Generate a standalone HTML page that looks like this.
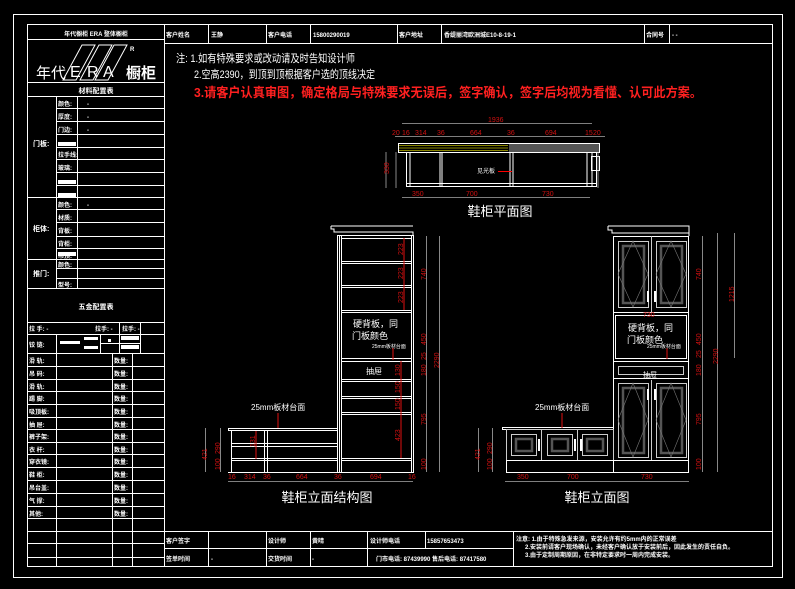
<!DOCTYPE html>
<html><head><meta charset="utf-8"><style>
html,body{margin:0;padding:0;background:#000;width:795px;height:589px;overflow:hidden}
svg{display:block}
text{font-family:"Liberation Sans","Noto Sans CJK SC",sans-serif}
</style></head><body>
<svg width="795" height="589" viewBox="0 0 795 589" xmlns="http://www.w3.org/2000/svg">
<rect width="795" height="589" fill="#000"/>
<g fill="none" stroke="#fff" stroke-width="1">
<rect x="13.5" y="14.5" width="769" height="563"/>
<rect x="27.5" y="24.5" width="745" height="542"/>
<line x1="164.5" y1="24" x2="164.5" y2="566"/>
<line x1="27" y1="39.5" x2="164" y2="39.5"/>
<line x1="27" y1="82.5" x2="164" y2="82.5"/>
<line x1="27" y1="96.5" x2="164" y2="96.5"/>
<line x1="56.5" y1="96" x2="56.5" y2="288"/>
<line x1="77.5" y1="96" x2="77.5" y2="288"/>
<g>
<line x1="56" y1="108.5" x2="164" y2="108.5"/><line x1="56" y1="121.5" x2="164" y2="121.5"/>
<line x1="56" y1="134.5" x2="164" y2="134.5"/><line x1="56" y1="147.5" x2="164" y2="147.5"/>
<line x1="56" y1="159.5" x2="164" y2="159.5"/><line x1="56" y1="172.5" x2="164" y2="172.5"/>
<line x1="56" y1="185.5" x2="164" y2="185.5"/>
<line x1="27" y1="197.5" x2="164" y2="197.5"/>
<line x1="56" y1="209.5" x2="164" y2="209.5"/><line x1="56" y1="222.5" x2="164" y2="222.5"/>
<line x1="56" y1="236.5" x2="164" y2="236.5"/><line x1="56" y1="248.5" x2="164" y2="248.5"/>
<line x1="27" y1="259.5" x2="164" y2="259.5"/>
<line x1="56" y1="268.5" x2="164" y2="268.5"/><line x1="56" y1="278.5" x2="164" y2="278.5"/>
<line x1="27" y1="288.5" x2="164" y2="288.5"/>
</g>
<line x1="27" y1="322.5" x2="164" y2="322.5"/>
<line x1="27" y1="334.5" x2="164" y2="334.5"/>
<line x1="27" y1="353.5" x2="164" y2="353.5"/>
<line x1="56.5" y1="334" x2="56.5" y2="566"/>
<line x1="112.5" y1="353" x2="112.5" y2="566"/>
<line x1="132.5" y1="353" x2="132.5" y2="566"/>
<line x1="119.5" y1="322" x2="119.5" y2="353"/><line x1="140.5" y1="322" x2="140.5" y2="353"/>
<line x1="100.5" y1="334" x2="100.5" y2="353"/>
<line x1="100" y1="343.5" x2="140" y2="343.5"/>
<g>
<line x1="27" y1="366.5" x2="164" y2="366.5"/><line x1="27" y1="379.5" x2="164" y2="379.5"/>
<line x1="27" y1="391.5" x2="164" y2="391.5"/><line x1="27" y1="404.5" x2="164" y2="404.5"/>
<line x1="27" y1="417.5" x2="164" y2="417.5"/><line x1="27" y1="429.5" x2="164" y2="429.5"/>
<line x1="27" y1="442.5" x2="164" y2="442.5"/><line x1="27" y1="454.5" x2="164" y2="454.5"/>
<line x1="27" y1="467.5" x2="164" y2="467.5"/><line x1="27" y1="480.5" x2="164" y2="480.5"/>
<line x1="27" y1="493.5" x2="164" y2="493.5"/><line x1="27" y1="506.5" x2="164" y2="506.5"/>
<line x1="27" y1="518.5" x2="164" y2="518.5"/><line x1="27" y1="531.5" x2="164" y2="531.5"/>
<line x1="27" y1="543.5" x2="164" y2="543.5"/><line x1="27" y1="557.5" x2="164" y2="557.5"/>
</g>
<line x1="164" y1="43.5" x2="772" y2="43.5"/>
<line x1="208.5" y1="24" x2="208.5" y2="43"/><line x1="266.5" y1="24" x2="266.5" y2="43"/>
<line x1="310.5" y1="24" x2="310.5" y2="43"/><line x1="397.5" y1="24" x2="397.5" y2="43"/>
<line x1="441.5" y1="24" x2="441.5" y2="43"/><line x1="644.5" y1="24" x2="644.5" y2="43"/>
<line x1="669.5" y1="24" x2="669.5" y2="43"/>
<line x1="164" y1="531.5" x2="772" y2="531.5"/>
<line x1="164" y1="548.5" x2="513" y2="548.5"/>
<line x1="208.5" y1="531" x2="208.5" y2="566"/><line x1="266.5" y1="531" x2="266.5" y2="566"/>
<line x1="310.5" y1="531" x2="310.5" y2="566"/><line x1="367.5" y1="531" x2="367.5" y2="566"/>
<line x1="425.5" y1="531" x2="425.5" y2="548"/><line x1="513.5" y1="531" x2="513.5" y2="566"/>
</g>
<g stroke="#fff" fill="none" stroke-width="1">
<polygon points="63,80 82,45 95,45 76,80"/><polygon points="80,80 99,45 112,45 93,80"/><polygon points="95,80 114,45 127,45 108,80"/>
</g>
<g fill="#fff" font-size="6" font-weight="bold">
<text x="96" y="36" text-anchor="middle">年代橱柜 ERA 整体橱柜</text>
<text x="36" y="78" font-size="15" font-weight="normal">年代</text>
<text x="70" y="77" font-size="16" font-weight="normal">E</text><text x="87" y="77" font-size="16" font-weight="normal">R</text><text x="103" y="77" font-size="16" font-weight="normal">A</text>
<text x="126" y="78" font-size="15">橱柜</text>
<text x="130" y="51" font-size="6">R</text>
<text x="96" y="93" text-anchor="middle" font-size="7">材料配置表</text>
<text x="58" y="106">颜色:</text><text x="58" y="119">厚度:</text><text x="58" y="132">门边:</text>
<text x="58" y="157">拉手线:</text><text x="58" y="170">玻璃:</text>
<text x="58" y="207">颜色:</text><text x="58" y="220">材质:</text><text x="58" y="233">背板:</text><text x="58" y="246">背柜:</text><text x="58" y="258">吊顶:</text>
<text x="58" y="267">颜色:</text><text x="58" y="287">型号:</text>
<text x="33" y="146" font-size="7">门板:</text><text x="33" y="231" font-size="7">柜体:</text><text x="33" y="276" font-size="7">推门:</text>
<text x="96" y="309" text-anchor="middle" font-size="7">五金配置表</text>
<text x="29" y="331">拉 手:  -</text><text x="95" y="331">拉手: -</text><text x="122" y="331">拉手:  -</text>
<text x="29" y="347">铰 链:</text>
<g font-size="6">
<text x="29" y="363">滑 轨:</text><text x="29" y="376">吊 码:</text><text x="29" y="389">滑 轨:</text><text x="29" y="401">踢 脚:</text>
<text x="29" y="414">吸顶板:</text><text x="29" y="427">抽 屉:</text><text x="29" y="439">裤子架:</text><text x="29" y="452">衣 杆:</text>
<text x="29" y="464">穿衣镜:</text><text x="29" y="477">鞋 柜:</text><text x="29" y="490">吊台盖:</text><text x="29" y="503">气 撑:</text><text x="29" y="516">其他:</text>
<text x="114" y="363">数量:</text><text x="114" y="376">数量:</text><text x="114" y="389">数量:</text><text x="114" y="401">数量:</text>
<text x="114" y="414">数量:</text><text x="114" y="427">数量:</text><text x="114" y="439">数量:</text><text x="114" y="452">数量:</text>
<text x="114" y="464">数量:</text><text x="114" y="477">数量:</text><text x="114" y="490">数量:</text><text x="114" y="503">数量:</text><text x="114" y="516">数量:</text>
</g>
<text x="87" y="106">-</text><text x="87" y="119">-</text><text x="87" y="132">-</text><text x="87" y="207">-</text>
</g>
<g fill="#fff">
<rect x="58" y="142" width="18" height="4"/><rect x="58" y="180" width="18" height="4"/><rect x="58" y="193" width="18" height="4"/><rect x="58" y="252" width="18" height="4"/>
<rect x="60" y="341" width="20" height="3"/><rect x="84" y="337" width="14" height="3"/><rect x="84" y="346" width="14" height="3"/><rect x="108" y="339" width="3" height="3"/><rect x="121" y="336" width="18" height="4"/><rect x="121" y="345" width="18" height="4"/>
</g>
<g fill="#fff" font-size="6" font-weight="bold">
<text x="166" y="37">客户姓名</text><text x="211" y="37">王静</text><text x="268" y="37">客户电话</text><text x="313" y="37">15800290019</text>
<text x="399" y="37">客户地址</text><text x="444" y="37">香缇丽湾欧洲城E10-8-19-1</text><text x="646" y="37">合同号</text><text x="672" y="37">-     -</text>
<text x="166" y="543">客户签字</text><text x="268" y="543">设计师</text><text x="312" y="543">黄晴</text><text x="370" y="543">设计师电话</text><text x="427" y="543">15857653473</text>
<text x="166" y="561">签单时间</text><text x="211" y="561">-</text><text x="268" y="561">交货时间</text><text x="312" y="561">-</text>
<text x="376" y="561">门市电话: 87439990   售后电话: 87417580</text>
<text x="516" y="541">注意: 1.由于特殊急发来源，安装允许有约5mm内的正常误差</text>
<text x="525" y="549">2.安装前请客户现场确认，未经客户确认放于安装前后，因此发生的责任自负。</text>
<text x="525" y="557">3.由于定制周期原因，在非特定要求时一周内完成安装。</text>
</g>
<g font-size="11">
<text x="176" y="62" fill="#fff" textLength="179" lengthAdjust="spacingAndGlyphs">注: 1.如有特殊要求或改动请及时告知设计师</text>
<text x="194" y="78" fill="#fff" textLength="181" lengthAdjust="spacingAndGlyphs">2.空高2390，到顶到顶根据客户选的顶线决定</text>
<text x="194" y="97" fill="#ff2020" font-size="13" font-weight="bold" textLength="508" lengthAdjust="spacingAndGlyphs">3.请客户认真审图，确定格局与特殊要求无误后，签字确认，签字后均视为看懂、认可此方案。</text>
</g>
<!-- PLAN VIEW -->
<g stroke="#fff" fill="none">
<rect x="398.5" y="143.5" width="201" height="9" />
<rect x="406.5" y="152.5" width="190" height="34" />
<line x1="410" y1="152" x2="410" y2="186"/><line x1="440" y1="152" x2="440" y2="186"/><line x1="442" y1="152" x2="442" y2="186"/>
<line x1="510" y1="152" x2="510" y2="186"/><line x1="513" y1="152" x2="513" y2="186"/><line x1="587" y1="152" x2="587" y2="186"/><line x1="592" y1="152" x2="592" y2="186"/>
<line x1="406" y1="183.5" x2="596" y2="183.5"/>
<rect x="591.5" y="156.5" width="8" height="14"/>
</g>
<g stroke="#b8b400" stroke-width="0.8"><line x1="399" y1="145.5" x2="508" y2="145.5"/><line x1="399" y1="148" x2="508" y2="148"/><line x1="399" y1="150.5" x2="508" y2="150.5"/></g>
<rect x="509" y="144" width="90" height="8" fill="#555"/>
<g stroke="#aaa" stroke-width="0.8" fill="none">
<line x1="402" y1="123.5" x2="592" y2="123.5"/><line x1="395" y1="136.5" x2="605" y2="136.5"/><line x1="402" y1="197.5" x2="590" y2="197.5"/>
<line x1="386" y1="152" x2="386" y2="188"/><line x1="396" y1="152" x2="396" y2="188"/><line x1="598" y1="152" x2="598" y2="188"/>
</g>
<line x1="498" y1="171.5" x2="512" y2="171.5" stroke="#f00"/>
<g fill="#d01010" font-size="7">
<text x="488" y="122">1936</text>
<text x="392" y="135">20</text><text x="402" y="135">16</text><text x="415" y="135">314</text><text x="437" y="135">36</text><text x="470" y="135">664</text><text x="507" y="135">36</text><text x="545" y="135">694</text><text x="585" y="135">15</text><text x="593" y="135">20</text>
<text x="412" y="196">350</text><text x="466" y="196">700</text><text x="542" y="196">730</text>
<text x="377" y="178" transform="rotate(-90 381 170)">330</text>
</g>
<text x="477" y="173" fill="#fff" font-size="6">见光板</text>
<text x="500" y="216" fill="#fff" font-size="13" text-anchor="middle">鞋柜平面图</text>

<!-- STRUCTURE ELEVATION -->
<g stroke="#fff" fill="none">
<path d="M331 226 H413 M331 226 V229 H334 V232 H413 V235"/>
<rect x="337.5" y="235.5" width="76" height="237"/>
<line x1="339.5" y1="236" x2="339.5" y2="472"/><line x1="341.5" y1="236" x2="341.5" y2="472"/><line x1="411.5" y1="236" x2="411.5" y2="472"/>
<line x1="341" y1="238.5" x2="411" y2="238.5"/>
<line x1="341" y1="261.5" x2="411" y2="261.5"/><line x1="341" y1="263.5" x2="411" y2="263.5"/>
<line x1="341" y1="285.5" x2="411" y2="285.5"/><line x1="341" y1="287.5" x2="411" y2="287.5"/>
<line x1="341" y1="310.5" x2="411" y2="310.5"/><line x1="341" y1="312.5" x2="411" y2="312.5"/>
<line x1="341" y1="358.5" x2="411" y2="358.5"/><line x1="341" y1="361.5" x2="411" y2="361.5"/>
<line x1="341" y1="379.5" x2="411" y2="379.5"/><line x1="341" y1="381.5" x2="411" y2="381.5"/>
<line x1="341" y1="396.5" x2="411" y2="396.5"/><line x1="341" y1="398.5" x2="411" y2="398.5"/>
<line x1="341" y1="412.5" x2="411" y2="412.5"/><line x1="341" y1="414.5" x2="411" y2="414.5"/>
<line x1="341" y1="458.5" x2="411" y2="458.5"/><line x1="341" y1="460.5" x2="411" y2="460.5"/>
<rect x="228.5" y="428.5" width="109" height="2"/>
<line x1="231.5" y1="430" x2="231.5" y2="472"/><line x1="264.5" y1="430" x2="264.5" y2="472"/><line x1="267.5" y1="430" x2="267.5" y2="472"/>
<line x1="231" y1="443.5" x2="337" y2="443.5"/><line x1="231" y1="446.5" x2="337" y2="446.5"/>
<line x1="231" y1="458.5" x2="337" y2="458.5"/><line x1="231" y1="460.5" x2="337" y2="460.5"/>
<line x1="228" y1="472.5" x2="413" y2="472.5"/>
</g>
<g stroke="#aaa" stroke-width="0.8">
<line x1="205.5" y1="428" x2="205.5" y2="472"/><line x1="220.5" y1="428" x2="220.5" y2="472"/>
<line x1="426.5" y1="236" x2="426.5" y2="472"/><line x1="439.5" y1="236" x2="439.5" y2="472"/>
<line x1="228" y1="481.5" x2="413" y2="481.5"/>
</g>
<g stroke="#e01010" stroke-width="1">
<line x1="404" y1="238" x2="404" y2="310"/><line x1="401" y1="361" x2="401" y2="458"/><line x1="256" y1="431" x2="256" y2="459"/>
<line x1="278" y1="413" x2="278" y2="428"/><line x1="393" y1="348" x2="393" y2="360"/>
</g>
<g fill="#d01010" font-size="7">
<text transform="translate(403 255) rotate(-90)">223</text><text transform="translate(403 279) rotate(-90)">223</text><text transform="translate(403 303) rotate(-90)">223</text>
<text transform="translate(400 376) rotate(-90)">130</text><text transform="translate(400 393) rotate(-90)">150</text><text transform="translate(400 410) rotate(-90)">150</text><text transform="translate(400 441) rotate(-90)">423</text>
<text transform="translate(426 280) rotate(-90)">740</text><text transform="translate(426 345) rotate(-90)">450</text><text transform="translate(426 360) rotate(-90)">25</text><text transform="translate(426 376) rotate(-90)">180</text><text transform="translate(426 425) rotate(-90)">795</text><text transform="translate(426 470) rotate(-90)">100</text>
<text transform="translate(439 368) rotate(-90)">2290</text>
<text transform="translate(207 460) rotate(-90)">421</text><text transform="translate(220 454) rotate(-90)">290</text><text transform="translate(220 470) rotate(-90)">100</text><text transform="translate(255 447) rotate(-90)">131</text>
<text x="228" y="479">16</text><text x="244" y="479">314</text><text x="263" y="479">36</text><text x="296" y="479">664</text><text x="334" y="479">36</text><text x="370" y="479">694</text><text x="408" y="479">16</text>
</g>
<g fill="#fff">
<text x="353" y="327" font-size="9">硬背板，同</text><text x="352" y="339" font-size="9">门板颜色</text>
<text x="372" y="348" font-size="5">25mm板材台面</text>
<text x="366" y="374" font-size="8">抽屉</text>
<text x="251" y="410" font-size="8">25mm板材台面</text>
<text x="327" y="502" font-size="13" text-anchor="middle">鞋柜立面结构图</text>
</g>

<!-- FRONT ELEVATION -->
<g stroke="#fff" fill="none">
<path d="M608 226 H689 V236 M608 226 V230 H612 V233 H689"/>
<rect x="613.5" y="236.5" width="75" height="236"/>
<line x1="613" y1="312.5" x2="689" y2="312.5"/><line x1="615" y1="315.5" x2="687" y2="315.5"/>
<rect x="615.5" y="315.5" width="71" height="43"/>
<line x1="613" y1="361.5" x2="689" y2="361.5"/>
<rect x="618.5" y="366.5" width="65" height="8" stroke="#ccc"/>
<line x1="613" y1="378.5" x2="689" y2="378.5"/>
<line x1="613" y1="460.5" x2="689" y2="460.5"/>
<line x1="651.5" y1="236" x2="651.5" y2="312" stroke="#ccc"/><line x1="651.5" y1="380" x2="651.5" y2="460" stroke="#ccc"/>
<rect x="502.5" y="427.5" width="111" height="2"/>
<rect x="506.5" y="429.5" width="107" height="31" stroke="#ccc"/>
<rect x="506.5" y="460.5" width="107" height="12"/>
<line x1="541.5" y1="430" x2="541.5" y2="460" stroke="#ccc"/><line x1="577.5" y1="430" x2="577.5" y2="460" stroke="#ccc"/>
</g>
<g fill="none" stroke-width="1">
<g stroke="#ccc"><rect x="618.5" y="241.5" width="30" height="66"/><rect x="656.5" y="241.5" width="30" height="66"/>
<rect x="618.5" y="383.5" width="30" height="74"/><rect x="656.5" y="383.5" width="30" height="74"/>
<rect x="511.5" y="434.5" width="25" height="21"/><rect x="547.5" y="434.5" width="25" height="21"/><rect x="582.5" y="434.5" width="25" height="21"/></g>
<g stroke="#555" stroke-width="2.5"><rect x="623" y="246" width="21" height="57"/><rect x="661" y="246" width="21" height="57"/>
<rect x="623" y="388" width="21" height="65"/><rect x="661" y="388" width="21" height="65"/>
<rect x="516" y="439" width="16" height="12"/><rect x="552" y="439" width="16" height="12"/><rect x="587" y="439" width="16" height="12"/></g>
<g stroke="#777" stroke-width="0.6"><path d="M618 274 L633 241 L648 274 L633 307 Z"/><path d="M656 274 L671 241 L686 274 L671 307 Z"/>
<path d="M618 420 L633 383 L648 420 L633 457 Z"/><path d="M656 420 L671 383 L686 420 L671 457 Z"/></g>
</g>
<g fill="#fff"><rect x="647" y="291" width="2" height="11"/><rect x="654" y="291" width="2" height="11"/><rect x="647" y="389" width="2" height="11"/><rect x="654" y="389" width="2" height="11"/>
<rect x="538" y="439" width="2" height="12"/><rect x="574" y="439" width="2" height="12"/><rect x="580" y="439" width="2" height="12"/></g>
<g stroke="#aaa" stroke-width="0.8">
<line x1="702.5" y1="236" x2="702.5" y2="472"/><line x1="717.5" y1="233" x2="717.5" y2="472"/><line x1="734.5" y1="233" x2="734.5" y2="358"/>
<line x1="478.5" y1="428" x2="478.5" y2="472"/><line x1="492.5" y1="428" x2="492.5" y2="472"/>
<line x1="505" y1="481.5" x2="689" y2="481.5"/>
</g>
<line x1="562" y1="413" x2="562" y2="428" stroke="#e01010"/><line x1="667" y1="348" x2="667" y2="359" stroke="#e01010"/>
<g fill="#d01010" font-size="7">
<text transform="translate(701 280) rotate(-90)">740</text><text transform="translate(701 345) rotate(-90)">450</text><text transform="translate(701 358) rotate(-90)">25</text><text transform="translate(701 376) rotate(-90)">180</text><text transform="translate(701 425) rotate(-90)">795</text><text transform="translate(701 470) rotate(-90)">100</text>
<text transform="translate(718 364) rotate(-90)">2290</text><text transform="translate(734 302) rotate(-90)">1215</text>
<text transform="translate(480 460) rotate(-90)">421</text><text transform="translate(492 454) rotate(-90)">290</text><text transform="translate(492 470) rotate(-90)">100</text>
<text x="643" y="317">730</text>
<text x="517" y="479">350</text><text x="567" y="479">700</text><text x="641" y="479">730</text>
</g>
<g fill="#fff">
<text x="628" y="331" font-size="9">硬背板，同</text><text x="627" y="343" font-size="9">门板颜色</text>
<text x="647" y="348" font-size="5">25mm板材台面</text>
<text x="643" y="377" font-size="7">抽屉</text>
<text x="535" y="410" font-size="8">25mm板材台面</text>
<text x="597" y="502" font-size="13" text-anchor="middle">鞋柜立面图</text>
</g>
</svg>
</body></html>
